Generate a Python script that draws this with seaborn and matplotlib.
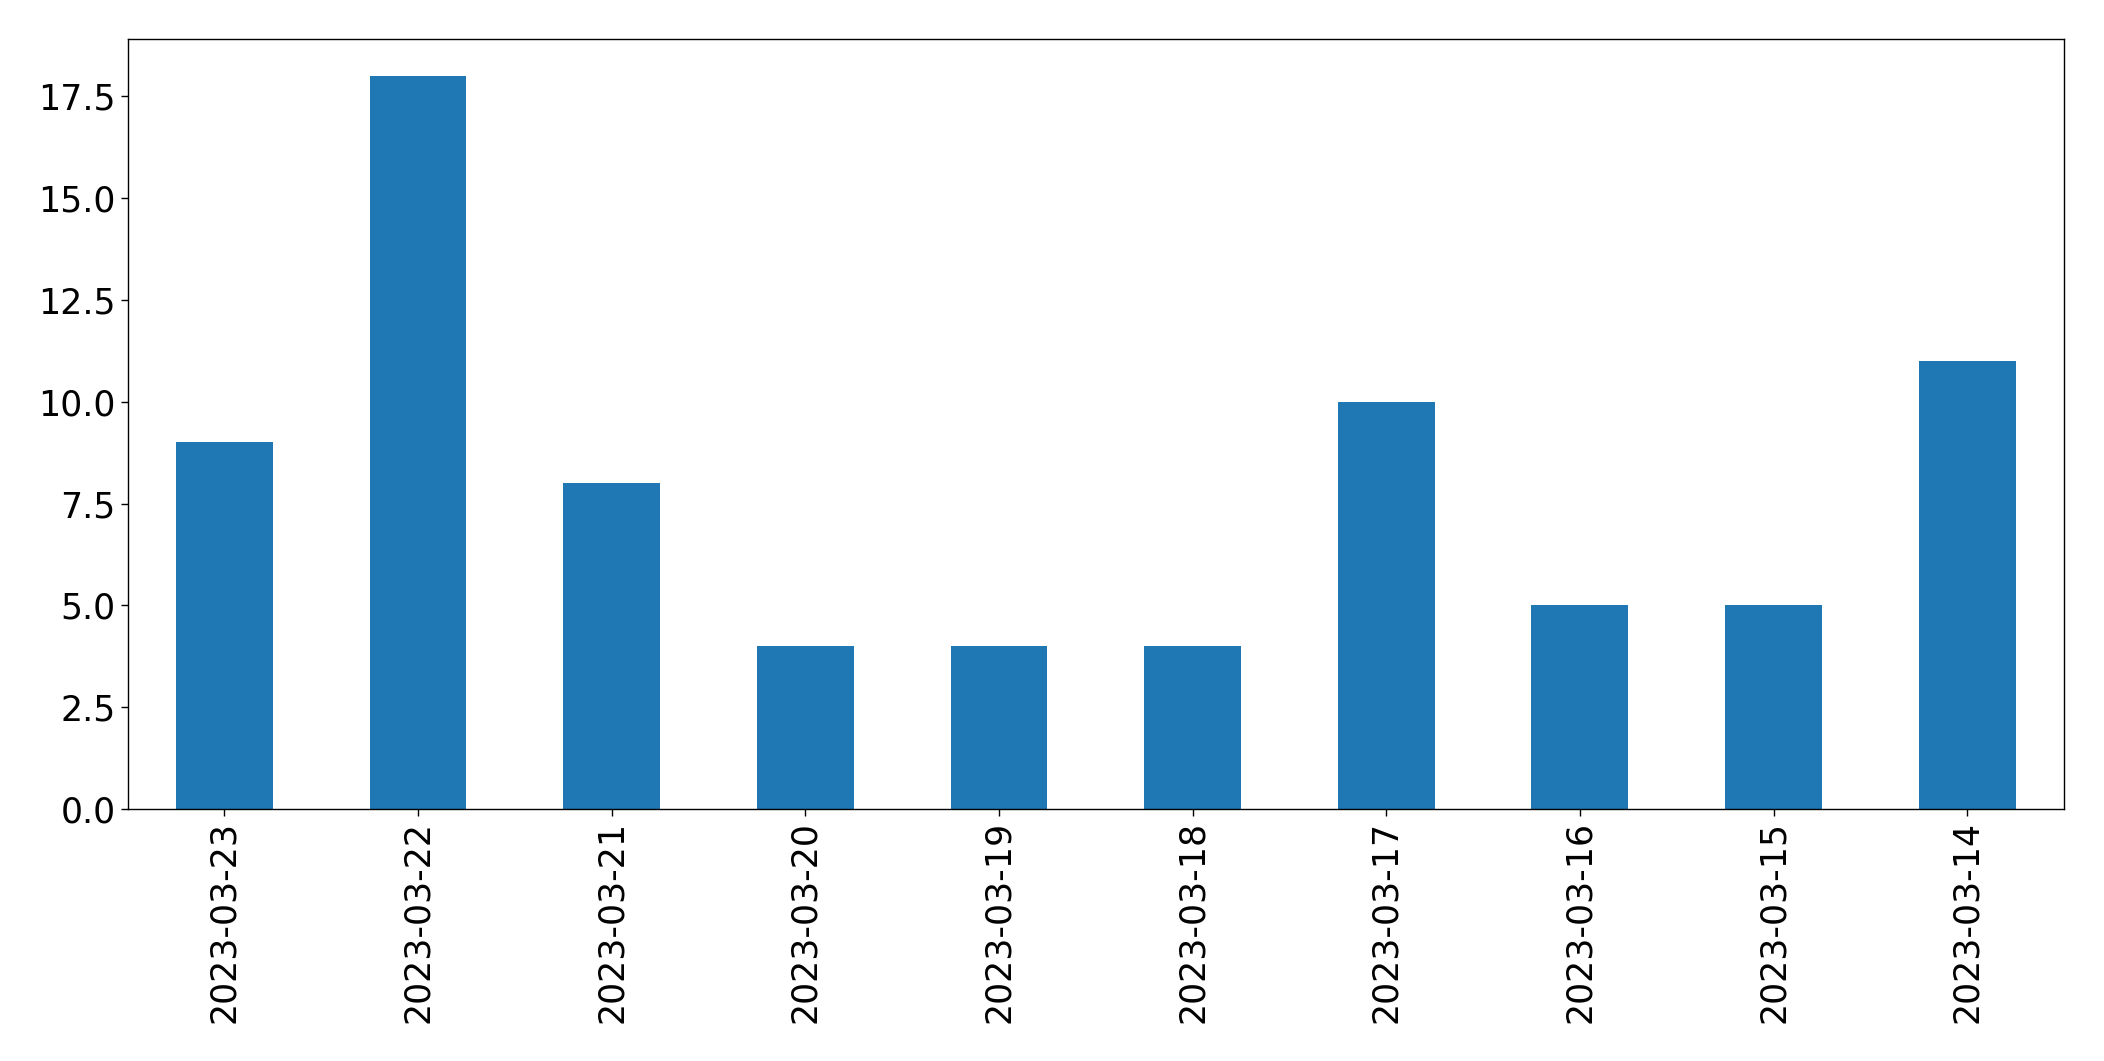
import pandas as pd
import matplotlib
matplotlib.use("Agg")
import matplotlib.pyplot as plt
import seaborn as sns

# Data
dates = ["2023-03-23", "2023-03-22", "2023-03-21", "2023-03-20", "2023-03-19",
         "2023-03-18", "2023-03-17", "2023-03-16", "2023-03-15", "2023-03-14"]
counts = [9, 18, 8, 4, 4, 4, 10, 5, 5, 11]

df = pd.DataFrame({"date": dates, "count": counts})

sns.set_style("white", {"text.color": "black", "axes.labelcolor": "black",
                        "xtick.color": "black", "ytick.color": "black",
                        "axes.edgecolor": "black"})
plt.rcParams["font.family"] = ["DejaVu Sans"]

fig, ax = plt.subplots(figsize=(21.04, 10.61), dpi=100)
fig.subplots_adjust(left=0.0606, right=0.981, top=0.963, bottom=0.2375)

sns.barplot(data=df, x="date", y="count", order=dates, color="#1f77b4",
            width=0.5, saturation=1, linewidth=0, ax=ax)

ax.set_xlim(-0.5, len(dates) - 0.5)
ax.set_ylim(0, max(counts) * 1.05)
ax.set_xlabel("")
ax.set_ylabel("")
ax.tick_params(axis="x", labelrotation=90, labelsize=25, length=5, width=1,
               bottom=True, colors="black")
ax.tick_params(axis="y", labelsize=25, length=5, width=1, left=True, colors="black")
for s in ax.spines.values():
    s.set_visible(True)
    s.set_color("black")
    s.set_linewidth(1)

fig.savefig("out.png", dpi=100)
